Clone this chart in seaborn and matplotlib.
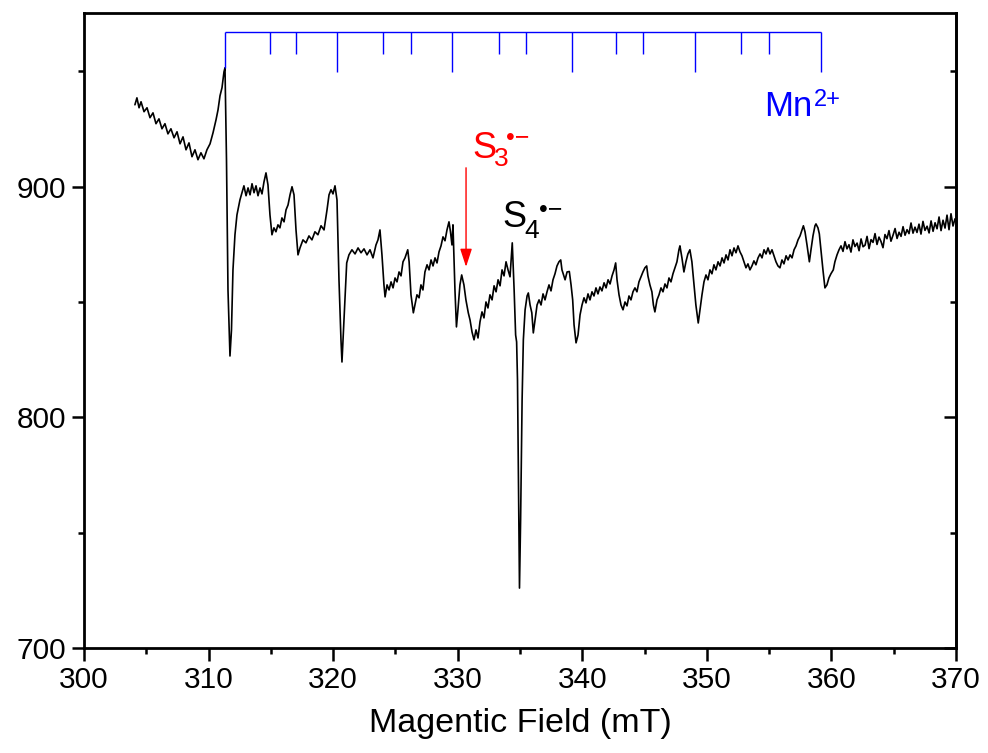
import matplotlib
matplotlib.use("Agg")
import matplotlib.pyplot as plt
from matplotlib.ticker import MultipleLocator
import seaborn as sns
import pandas as pd

# ---------------- data ----------------
field_main = [
    304.09, 304.25, 304.42, 304.58, 304.82, 305.06, 305.30, 305.54, 305.78, 306.02,
    306.26, 306.50, 306.74, 306.98, 307.23, 307.47, 307.71, 307.95, 308.19, 308.43,
    308.67, 308.91, 309.15, 309.39, 309.63, 309.87, 310.12, 310.36, 310.60, 310.76,
    310.92, 311.08, 311.24, 311.32,
    311.44, 311.56, 311.68, 311.72, 311.84, 311.96, 312.12, 312.28, 312.52, 312.68,
    312.84, 313.01, 313.17, 313.33, 313.49, 313.65, 313.81, 313.97, 314.13, 314.29,
    314.45, 314.61, 314.77, 314.93, 315.09, 315.25, 315.41, 315.57, 315.73, 315.89,
    316.06, 316.22, 316.38, 316.54, 316.70, 316.86, 317.02, 317.18, 317.34, 317.58,
    317.82, 318.06, 318.30, 318.54, 318.78, 319.03, 319.27, 319.51, 319.67, 319.83,
    319.99, 320.15, 320.31, 320.47, 320.63, 320.71, 320.87, 321.09, 321.27, 321.51,
    321.76, 322.00, 322.24, 322.48, 322.72, 322.96, 323.20, 323.44, 323.60, 323.76,
    323.92, 324.08, 324.17, 324.33, 324.49, 324.65, 324.81, 324.97, 325.13, 325.29,
    325.45, 325.61, 325.77, 325.99, 326.10, 326.25, 326.44, 326.57, 326.73, 326.90,
    327.05, 327.21, 327.37, 327.54, 327.70, 327.86, 328.02, 328.18, 328.34, 328.50,
    328.66, 328.82, 328.98, 329.14, 329.30, 329.42, 329.54, 329.62, 329.78, 329.90,
    330.02, 330.18, 330.32, 330.50, 330.66, 330.85, 330.99, 331.15, 331.31, 331.47,
    331.63, 331.79, 331.95, 332.11, 332.27, 332.43, 332.59, 332.76, 332.92, 333.08,
    333.24, 333.40, 333.56, 333.72, 333.88, 334.04, 334.20, 334.38, 334.53, 334.65,
    334.73, 334.80, 334.88, 334.96, 335.05, 335.17, 335.27, 335.41, 335.57, 335.67,
    335.81, 335.95, 336.07, 336.21, 336.37, 336.53, 336.69, 336.85, 337.01, 337.17,
    337.33, 337.49, 337.65, 337.81, 337.97, 338.13, 338.27, 338.37, 338.62, 338.78,
    338.96, 339.10, 339.23, 339.34, 339.50, 339.66, 339.82, 339.98, 340.14, 340.30,
    340.46, 340.62, 340.78, 340.94, 341.10, 341.26, 341.42, 341.58, 341.75, 341.91,
    342.07, 342.23, 342.39, 342.55, 342.68, 342.79, 342.95, 343.11, 343.27, 343.43,
    343.59, 343.75, 343.91, 344.07, 344.23, 344.39, 344.55, 344.71, 344.87, 345.03,
    345.17, 345.27, 345.43, 345.59, 345.71, 345.83, 346.00, 346.16, 346.32, 346.48,
    346.64, 346.80, 346.96, 347.12, 347.28, 347.44, 347.60, 347.76, 347.84, 348.00,
    348.16, 348.32, 348.48, 348.64, 348.80, 348.96, 349.12, 349.31, 349.45, 349.61,
    349.77, 349.93, 350.09, 350.25, 350.41, 350.57, 350.73, 350.90, 351.06, 351.22,
    351.38, 351.54, 351.70, 351.86, 352.02, 352.18, 352.34, 352.50, 352.66, 352.82,
    352.98, 353.14, 353.30, 353.46, 353.62, 353.78, 353.94, 354.11, 354.27, 354.43,
    354.59, 354.75, 354.91, 355.07, 355.23, 355.39, 355.55, 355.71, 355.87, 356.03,
    356.19, 356.36, 356.52, 356.68, 356.84, 357.00, 357.16, 357.32, 357.48, 357.64,
    357.75, 357.88, 358.04, 358.23, 358.36, 358.52, 358.68, 358.76, 358.92, 359.03,
    359.16, 359.32, 359.48, 359.64, 359.80, 359.96, 360.15, 360.28, 360.45, 360.61,
]
intensity_main = [
    935.4, 938.4, 934.1, 936.7, 932.4, 934.1, 929.8, 931.9, 927.2, 929.3,
    925.0, 927.2, 922.8, 925.0, 921.1, 923.7, 918.5, 921.5, 915.9, 918.9,
    912.9, 915.9, 911.6, 914.6, 912.0, 915.9, 918.5, 923.3, 928.9, 933.2,
    939.3, 942.8, 949.7, 951.4,
    911.6, 855.2, 833.6, 826.6, 837.9, 863.9, 879.1, 887.7, 894.2, 897.3,
    900.3, 896.0, 899.4, 896.4, 901.2, 897.3, 900.3, 896.0, 899.4, 896.8,
    902.0, 905.9, 900.7, 887.7, 879.1, 882.1, 880.4, 883.4, 882.1, 886.4,
    884.7, 889.9, 892.0, 896.4, 899.9, 896.4, 881.2, 870.4, 873.4, 876.9,
    875.6, 878.6, 876.9, 880.4, 879.1, 883.0, 881.2, 889.9, 896.4, 898.6,
    896.8, 900.3, 894.2, 859.6, 833.6, 824.0, 842.2, 866.9, 870.4, 872.6,
    870.8, 873.4, 871.3, 873.0, 870.4, 872.6, 869.1, 874.7, 876.9, 881.2,
    870.4, 857.4, 852.2, 857.4, 855.2, 858.7, 856.1, 860.4, 858.7, 863.0,
    861.3, 867.4, 869.1, 872.6, 867.4, 853.1, 845.3, 848.7, 853.1, 851.8,
    857.4, 855.2, 863.0, 866.1, 863.9, 868.2, 865.6, 869.1, 866.9, 871.7,
    874.3, 878.2, 876.5, 881.2, 884.7, 880.4, 874.7, 883.4, 855.2, 839.2,
    846.6, 857.4, 861.7, 857.4, 850.9, 845.3, 842.2, 837.0, 833.6, 837.9,
    834.4, 841.4, 845.7, 843.1, 850.0, 847.4, 853.1, 850.9, 857.0, 854.4,
    859.6, 857.0, 863.9, 861.3, 867.4, 863.9, 860.9, 875.6, 855.2, 835.7,
    832.7, 816.2, 772.9, 726.1, 755.6, 807.6, 833.6, 846.6, 852.6, 853.9,
    848.7, 845.3, 836.6, 842.2, 848.7, 850.9, 848.7, 853.5, 850.9, 854.4,
    857.4, 854.8, 859.6, 862.2, 865.6, 867.4, 868.2, 863.9, 859.6, 863.0,
    863.2, 857.4, 850.9, 840.1, 832.3, 835.7, 844.4, 848.7, 851.8, 849.6,
    853.5, 850.9, 854.4, 852.6, 856.1, 853.5, 856.5, 854.8, 858.3, 856.1,
    859.6, 857.8, 861.3, 863.9, 866.9, 859.6, 853.1, 848.7, 846.6, 850.0,
    848.3, 852.6, 850.9, 854.4, 856.1, 854.4, 858.7, 860.9, 863.0, 864.8,
    865.6, 861.3, 857.4, 854.4, 848.7, 845.7, 850.9, 853.1, 856.1, 854.4,
    857.8, 856.1, 860.4, 858.7, 862.2, 864.8, 867.4, 872.6, 874.3, 869.1,
    863.0, 867.4, 870.8, 872.6, 867.4, 858.3, 848.7, 840.9, 846.6, 853.1,
    858.7, 861.7, 859.6, 863.9, 862.2, 866.1, 863.9, 867.4, 865.6, 869.1,
    866.9, 870.4, 868.2, 872.6, 870.0, 873.4, 871.3, 874.3, 871.7, 870.0,
    867.4, 864.8, 866.5, 863.9, 865.6, 867.8, 866.1, 869.1, 870.8, 869.1,
    872.6, 870.8, 873.4, 870.8, 872.6, 870.0, 867.4, 865.6, 864.8, 868.2,
    866.5, 870.0, 868.2, 870.4, 869.1, 872.6, 874.3, 876.9, 878.6, 881.2,
    883.0, 880.4, 874.7, 867.4, 872.6, 878.6, 883.0, 883.8, 882.1, 879.5,
    872.6, 863.9, 856.1, 857.4, 860.4, 862.2, 863.9, 867.4, 870.4, 872.6,
]
field_tail = [
    360.77, 360.93, 361.09, 361.25, 361.41, 361.57, 361.73, 361.89, 362.06, 362.22,
    362.38, 362.54, 362.70, 362.86, 363.02, 363.18, 363.34, 363.50, 363.66, 363.82,
    363.98, 364.14, 364.30, 364.46, 364.62, 364.78, 364.95, 365.11, 365.27, 365.43,
    365.59, 365.75, 365.91, 366.07, 366.23, 366.39, 366.55, 366.71, 366.87, 367.03,
    367.19, 367.35, 367.51, 367.68, 367.84, 368.00, 368.16, 368.32, 368.48, 368.64,
    368.80, 368.96, 369.12, 369.28, 369.44, 369.60, 369.76, 369.92,
]
intensity_tail = [
    874.3, 871.9, 876.1, 873.0, 874.8, 871.6, 876.9, 874.0, 875.5, 872.2,
    877.3, 873.9, 874.6, 878.4, 873.1, 877.0, 875.8, 879.6, 874.9, 878.1,
    876.2, 873.5, 879.2, 877.4, 880.9, 876.3, 879.0, 881.8, 877.5, 880.2,
    878.4, 882.6, 878.9, 881.3, 879.6, 884.2, 879.8, 882.4, 880.1, 883.7,
    879.4, 884.9, 881.0, 882.8, 879.9, 885.1, 880.6, 884.3, 881.7, 886.8,
    880.9, 885.4, 882.0, 887.6, 881.3, 888.2, 882.9, 886.0,
]

# Mn2+ hyperfine stick diagram
mn_positions = [311.32, 314.91, 317.04, 320.31, 323.98, 326.23, 329.52, 333.31,
                335.51, 339.20, 342.68, 344.85, 349.02, 352.77, 354.97, 359.16]
mn_stick_ends = [951.4, 957.6, 957.6, 949.8, 957.6, 957.6, 949.8, 957.6,
                 957.6, 949.8, 957.6, 957.6, 949.8, 957.6, 957.6, 949.8]
mn_top = 966.8

x_ticks = [300, 310, 320, 330, 340, 350, 360, 370]
y_ticks = [700, 800, 900]

s3_arrow_x = 330.67
s3_arrow_from = 908.1
s3_arrow_to = 865.2

# ---------------- styling ----------------
sns.set_theme(style="ticks")
plt.rcParams["font.family"] = ["Liberation Sans", "DejaVu Sans"]
plt.rcParams["text.color"] = "black"
plt.rcParams["axes.labelcolor"] = "black"
plt.rcParams["xtick.color"] = "black"
plt.rcParams["ytick.color"] = "black"

fig = plt.figure(figsize=(9.88, 7.53), dpi=100)
ax = fig.add_axes([0.085, 0.139, 0.8826, 0.8433])

df = pd.DataFrame({"field": field_main + field_tail,
                   "intensity": intensity_main + intensity_tail})
sns.lineplot(data=df, x="field", y="intensity", ax=ax, color="black",
             linewidth=1.2, sort=False, estimator=None)

# Mn2+ sticks
blue = "#0000FF"
red = "#FF0000"
ax.hlines(mn_top, mn_positions[0], mn_positions[-1], color=blue, linewidth=1.0)
ax.vlines(mn_positions, mn_stick_ends, mn_top, color=blue, linewidth=1.0)

# labels (built from pieces: main letters, subscripts, superscripts)
ax.text(354.62, 930.6, "Mn", color=blue, fontsize=25, va="baseline", ha="left")
ax.text(358.62, 935.0, "2+", color=blue, fontsize=17, va="baseline", ha="left")

ax.text(331.15, 912.4, "S", color=red, fontsize=26, va="baseline", ha="left")
ax.text(332.95, 909.0, "3", color=red, fontsize=19, va="baseline", ha="left")
ax.text(333.90, 918.1, "\u2022\u2212", color=red, fontsize=18, va="baseline", ha="left")

ax.text(333.55, 882.4, "S", color="black", fontsize=26, va="baseline", ha="left")
ax.text(335.35, 877.6, "4", color="black", fontsize=19, va="baseline", ha="left")
ax.text(336.50, 886.7, "\u2022\u2212", color="black", fontsize=18, va="baseline", ha="left")

ax.annotate("", xy=(s3_arrow_x, s3_arrow_to), xytext=(s3_arrow_x, s3_arrow_from),
            arrowprops=dict(arrowstyle="-|>,head_length=0.55,head_width=0.18",
                            color=red, lw=1.0, mutation_scale=20,
                            shrinkA=0, shrinkB=0))

ax.set_xlim(300, 370)
ax.set_ylim(700, 975)
ax.set_xticks(x_ticks)
ax.set_yticks(y_ticks)
ax.xaxis.set_minor_locator(MultipleLocator(5))
ax.yaxis.set_minor_locator(MultipleLocator(50))
ax.set_xlabel("Magentic Field (mT)", fontsize=24.5, labelpad=10, color="black")
ax.set_ylabel("")

for sp in ax.spines.values():
    sp.set_visible(True)
    sp.set_linewidth(2.0)
    sp.set_color("black")

ax.tick_params(axis="both", which="major", direction="out", length=9, width=1.8,
               labelsize=21.5, color="black", labelcolor="black", pad=4)
ax.tick_params(axis="both", which="minor", direction="out", length=4.5, width=1.8,
               color="black")
ax.tick_params(top=False, right=False, which="both")

sec = ax.secondary_yaxis("right", functions=(lambda v: v, lambda v: v))
sec.set_yticks(y_ticks)
sec.yaxis.set_minor_locator(MultipleLocator(50))
sec.tick_params(which="major", direction="in", length=9, width=1.8, labelright=False)
sec.tick_params(which="minor", direction="in", length=4.5, width=1.8)
sec.spines["right"].set_linewidth(2.0)

fig.savefig("out.png", dpi=100)
